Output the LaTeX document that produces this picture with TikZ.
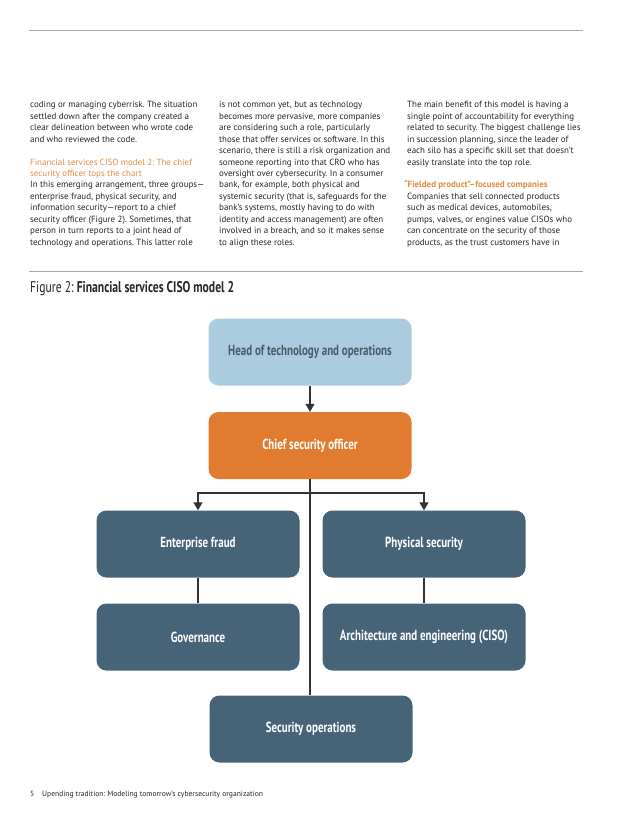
\documentclass[tikz,border=0pt]{standalone}
\usepackage{fontspec}
\setmainfont{PT Sans}
\newfontfamily\condfont[FakeStretch=0.75]{PT Sans}
\usetikzlibrary{arrows.meta}
\definecolor{bodytext}{HTML}{262626}
\definecolor{headorange}{HTML}{E38A3D}
\definecolor{lightblue}{HTML}{AACCDE}
\definecolor{csoorange}{HTML}{E07B30}
\definecolor{slate}{HTML}{466378}
\definecolor{rulegray}{HTML}{A8A8A8}
\definecolor{linkgray}{HTML}{333333}
\definecolor{darkslate}{HTML}{4A5A68}
\frenchspacing
\begin{document}
\begin{tikzpicture}[x=1pt,y=-1pt,
  bodyline/.style={anchor=base west, inner sep=0pt, font=\fontsize{8.95}{10}\selectfont, text=bodytext},
  headline/.style={bodyline, text=headorange},
  boldhead/.style={bodyline, text=headorange, font=\fontsize{8.95}{10}\selectfont\bfseries},
  orgbox/.style={rectangle, rounded corners=10pt, minimum width=203pt, minimum height=67pt, inner sep=0pt,
     font=\condfont\bfseries\fontsize{14.6}{16}\selectfont, text=white, fill=slate},
  link/.style={draw=linkgray, line width=1.1pt},
  arrowlink/.style={link, -{Triangle[width=9pt,length=8pt]}},
  hrule/.style={draw=rulegray, line width=0.9pt}
]
\useasboundingbox[fill=white] (0,0) rectangle (621,825);

% rules
\coordinate (r1a) at (29,30);
\coordinate (r1b) at (583,30);
\coordinate (r2a) at (29,271);
\coordinate (r2b) at (583,271);
\draw[hrule] (r1a) -- (r1b);
\draw[hrule] (r2a) -- (r2b);

% column 1
\node[bodyline] (c1l0) at (30,107.8) {coding or managing cyberrisk. The situation};
\node[bodyline] (c1l1) at (30,119.25) {settled down after the company created a};
\node[bodyline] (c1l2) at (30,130.7) {clear delineation between who wrote code};
\node[bodyline] (c1l3) at (30,142.15) {and who reviewed the code.};
\node[headline] (c1l5) at (30,165.05) {Financial services CISO model 2: The chief};
\node[headline] (c1l6) at (30,176.5) {security officer tops the chart};
\node[bodyline] (c1l7) at (30,187.95) {In this emerging arrangement, three groups—};
\node[bodyline] (c1l8) at (30,199.4) {enterprise fraud, physical security, and};
\node[bodyline] (c1l9) at (30,210.85) {information security—report to a chief};
\node[bodyline] (c1l10) at (30,222.3) {security officer (Figure 2). Sometimes, that};
\node[bodyline] (c1l11) at (30,233.75) {person in turn reports to a joint head of};
\node[bodyline] (c1l12) at (30,245.2) {technology and operations. This latter role};

% column 2
\node[bodyline] (c2l0) at (219,107.8) {is not common yet, but as technology};
\node[bodyline] (c2l1) at (219,119.25) {becomes more pervasive, more companies};
\node[bodyline] (c2l2) at (219,130.7) {are considering such a role, particularly};
\node[bodyline] (c2l3) at (219,142.15) {those that offer services or software. In this};
\node[bodyline] (c2l4) at (219,153.6) {scenario, there is still a risk organization and};
\node[bodyline] (c2l5) at (219,165.05) {someone reporting into that CRO who has};
\node[bodyline] (c2l6) at (219,176.5) {oversight over cybersecurity. In a consumer};
\node[bodyline] (c2l7) at (219,187.95) {bank, for example, both physical and};
\node[bodyline] (c2l8) at (219,199.4) {systemic security (that is, safeguards for the};
\node[bodyline] (c2l9) at (219,210.85) {bank’s systems, mostly having to do with};
\node[bodyline] (c2l10) at (219,222.3) {identity and access management) are often};
\node[bodyline] (c2l11) at (219,233.75) {involved in a breach, and so it makes sense};
\node[bodyline] (c2l12) at (219,245.2) {to align these roles.};

% column 3
\node[bodyline] (c3l0) at (407,107.8) {The main benefit of this model is having a};
\node[bodyline] (c3l1) at (407,119.25) {single point of accountability for everything};
\node[bodyline] (c3l2) at (407,130.7) {related to security. The biggest challenge lies};
\node[bodyline] (c3l3) at (407,142.15) {in succession planning, since the leader of};
\node[bodyline] (c3l4) at (407,153.6) {each silo has a specific skill set that doesn’t};
\node[bodyline] (c3l5) at (407,165.05) {easily translate into the top role.};
\node[boldhead] (c3l7) at (404,187.95) {“Fielded product”–focused companies};
\node[bodyline] (c3l8) at (407,199.4) {Companies that sell connected products};
\node[bodyline] (c3l9) at (407,210.85) {such as medical devices, automobiles,};
\node[bodyline] (c3l10) at (407,222.3) {pumps, valves, or engines value CISOs who};
\node[bodyline] (c3l11) at (407,233.75) {can concentrate on the security of those};
\node[bodyline] (c3l12) at (407,245.2) {products, as the trust customers have in};

% figure title
\node[anchor=base west, inner sep=0pt, text=black!85] (title) at (30,292)
  {\condfont\fontsize{15.5}{17}\selectfont Figure 2: \bfseries Financial services CISO model 2};

% org chart boxes
\node[orgbox, fill=lightblue, text=darkslate] (head) at (310,352) {Head of technology and operations};
\node[orgbox, fill=csoorange] (cso) at (310,445.5) {Chief security officer};
\node[orgbox] (fraud) at (198,544) {Enterprise fraud};
\node[orgbox] (phys) at (424,544) {Physical security};
\node[orgbox] (gov) at (198,637) {Governance};
\node[orgbox] (arch) at (424,637) {Architecture and engineering (CISO)};
\node[orgbox] (secops) at (311,729) {Security operations};

% connectors
\coordinate (split) at (310,493);
\draw[arrowlink] (head.south) -- (cso.north);
\draw[link] (cso.south) -- (cso.south |- secops.north);
\draw[arrowlink] (split) -| (fraud.north);
\draw[arrowlink] (split) -| (phys.north);
\draw[link] (fraud.south) -- (gov.north);
\draw[link] (phys.south) -- (arch.north);

% footer
\node[anchor=base west, inner sep=0pt, text=bodytext, font=\fontsize{7.6}{8}\selectfont] (pagenum) at (30,796) {5};
\node[anchor=base west, inner sep=0pt, text=bodytext, font=\fontsize{7.6}{8}\selectfont] (footer) at (42,796) {Upending tradition: Modeling tomorrow’s cybersecurity organization};
\end{tikzpicture}
\end{document}
